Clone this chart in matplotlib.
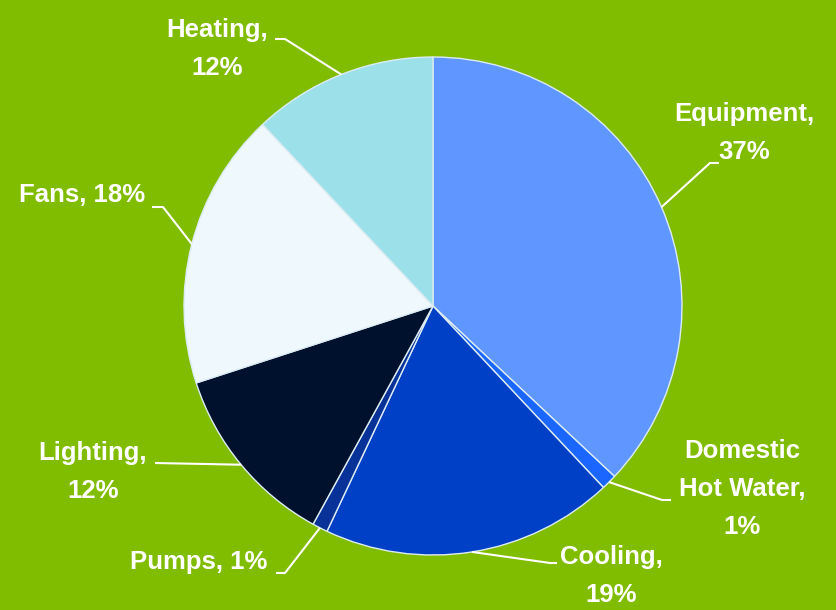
import numpy as np
import matplotlib as mpl
import matplotlib.pyplot as plt

mpl.use("agg")
plt.rcParams['font.family'] = ['Liberation Sans Narrow', 'Liberation Sans', 'DejaVu Sans']

# data
categories = ['Equipment', 'Domestic\nHot Water', 'Cooling', 'Pumps', 'Lighting', 'Fans', 'Heating']
shares = [37, 1, 19, 1, 12, 18, 12]
colors = ['#6096ff', '#1a66ff', '#0040c6', '#083298', '#00112e', '#eff8fc', '#9ce0ea']
labels = ['Equipment,\n37%', 'Domestic\nHot Water,\n1%', 'Cooling,\n19%', 'Pumps, 1%',
          'Lighting,\n12%', 'Fans, 18%', 'Heating,\n12%']

W, H = 837, 610
bg = '#80bc00'

fig = plt.figure(figsize=(W / 100, H / 100), dpi=100, facecolor=bg)
ax = fig.add_axes([0, 0, 1, 1])

cx, cy, r = 433, H - 306, 249
wedges, _ = ax.pie(shares, colors=colors, startangle=90, counterclock=False,
                   center=(cx, cy), radius=r, frame=True,
                   wedgeprops=dict(edgecolor='#dcecf2', linewidth=1))
ax.set_xlim(0, W)
ax.set_ylim(0, H)
ax.set_aspect('equal')
ax.axis('off')

# label placement (image pixel coords, y down): text centre, elbow, line end
place = [
    ((744, 133), (710, 163), (719, 163)),
    ((742, 489), (662, 500), (671, 500)),
    ((611, 576), (550, 563), (557, 563)),
    ((199, 562), (285, 573), (276, 573)),
    ((93, 472), (155, 463), (155, 463)),
    ((82, 195), (163, 207), (152, 207)),
    ((217, 49), (285, 39), (275, 39)),
]

for w, lab, (tpos, elbow, end) in zip(wedges, labels, place):
    mid = np.radians((w.theta1 + w.theta2) / 2)
    px, py = cx + r * np.cos(mid), cy + r * np.sin(mid)
    xs = [px, elbow[0], end[0]]
    ys = [py, H - elbow[1], H - end[1]]
    ax.plot(xs, ys, color='white', lw=1.5, solid_capstyle='butt')
    ax.text(tpos[0], H - tpos[1], lab, ha='center', va='center', color='white',
            fontsize=18.5, fontweight='bold', linespacing=1.75)

fig.savefig('out.png', dpi=100, facecolor=bg)
